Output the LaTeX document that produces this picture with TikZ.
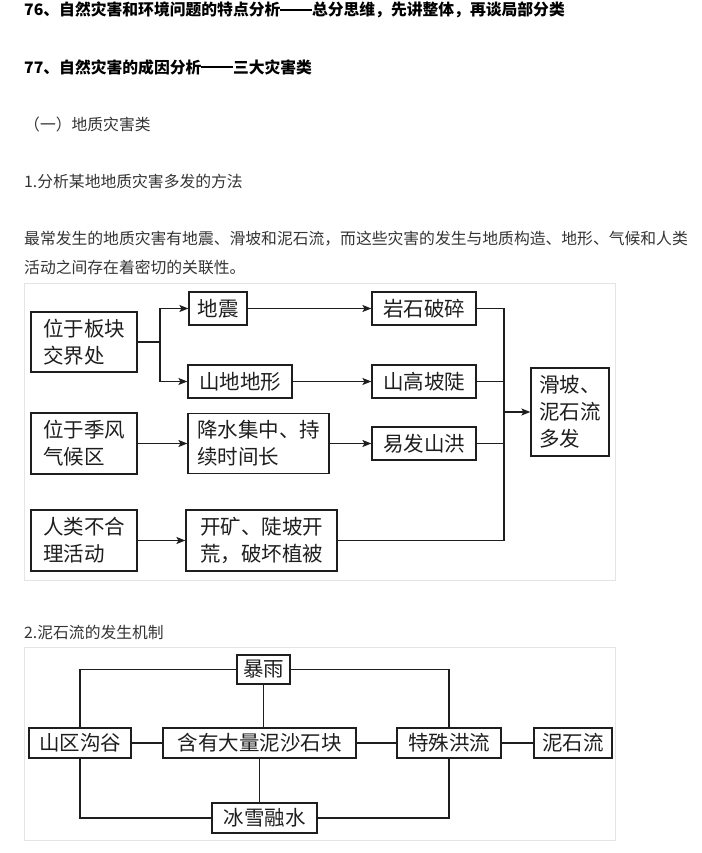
\documentclass[tikz,border=0pt]{standalone}
\usepackage{fontspec}
\setmainfont{Noto Sans CJK SC}
\usetikzlibrary{arrows.meta}
\definecolor{txt}{HTML}{333333}
\definecolor{ink}{HTML}{1E1E1E}
\definecolor{framegray}{HTML}{E4E4E4}
\newcommand\longdash{\rule[0.3em]{2em}{0.12em}}
\tikzset{
  line/.style={ink, line width=1.2pt},
  arr/.style={line, -{Stealth[length=9pt,width=7pt,inset=2pt]}},
  box/.style={draw=ink, line width=1.2pt, inner sep=0pt, align=left, text=ink,
    font=\fontsize{20.5}{27}\selectfont},
  para/.style={anchor=west, inner sep=0pt, text=txt, font=\fontsize{15.8}{18}\selectfont},
  head/.style={para, text=black, font=\fontsize{15.8}{18}\selectfont\bfseries},
  panel/.style={draw=framegray, line width=1pt}
}

\begin{document}
\begin{tikzpicture}[x=1pt,y=-1pt]
\useasboundingbox (0,0) rectangle (701,853);

\node[head] (h76) at (24,10) {76、自然灾害和环境问题的特点分析\longdash 总分思维，先讲整体，再谈局部分类};
\node[head] (h77) at (24,67) {77、自然灾害的成因分析\longdash 三大灾害类};
\node[para] (sec1) at (24,124) {（一）地质灾害类};
\node[para] (sub1) at (24,181) {1.分析某地地质灾害多发的方法};
\node[para] (txt1) at (24,239) {最常发生的地质灾害有地震、滑坡和泥石流，而这些灾害的发生与地质构造、地形、气候和人类};
\node[para] (txt2) at (24,267) {活动之间存在着密切的关联性。};
\node[para] (sub2) at (24,632) {2.泥石流的发生机制};

\draw[panel] (24.5,283) rectangle (615,580);
\node[box, minimum width=106pt, minimum height=60pt] (plate) at (84,342) {位于板块\\交界处};
\node[box, minimum width=58pt, minimum height=33pt] (quake) at (218,308.5) {地震};
\node[box, minimum width=104pt, minimum height=33pt] (rock) at (424,308.5) {岩石破碎};
\node[box, minimum width=104pt, minimum height=33pt] (mount) at (240,381.5) {山地地形};
\node[box, minimum width=104pt, minimum height=33pt] (steep) at (424,381.5) {山高坡陡};
\node[box, minimum width=78pt, minimum height=88pt] (result) at (570,412) {滑坡、\\泥石流\\多发};
\node[box, minimum width=106pt, minimum height=61pt] (monsoon) at (84,443.5) {位于季风\\气候区};
\node[box, minimum width=141pt, minimum height=60pt] (rain) at (258.5,443.5) {降水集中、持\\续时间长};
\node[box, minimum width=104pt, minimum height=33pt] (flood) at (424,443.5) {易发山洪};
\node[box, minimum width=106pt, minimum height=61pt] (human) at (84,540.5) {人类不合\\理活动};
\node[box, minimum width=151pt, minimum height=61pt] (mining) at (261.5,540.5) {开矿、陡坡开\\荒，破坏植被};
\coordinate (fork) at (160,342);
\coordinate (bus) at (504,412);

\draw[line] (plate.east) -- (fork);
\draw[arr] (fork) |- (quake);
\draw[arr] (fork) |- (mount);
\draw[arr] (quake) -- (rock);
\draw[arr] (mount) -- (steep);
\draw[arr] (monsoon) -- (rain);
\draw[arr] (rain) -- (flood);
\draw[arr] (human) -- (mining);
\draw[line] (rock.east) -| (bus) |- (mining.east);
\draw[line] (steep.east) -- (steep.east -| bus);
\draw[line] (flood.east) -- (flood.east -| bus);
\draw[arr] (bus) -- (bus -| result.west);

\draw[panel] (24,647) rectangle (615,840);
\node[box, minimum width=53pt, minimum height=29pt] (storm) at (263.5,669.5) {暴雨};
\node[box, minimum width=102pt, minimum height=30pt] (valley) at (80,743) {山区沟谷};
\node[box, minimum width=193pt, minimum height=30pt] (debris) at (259.5,743) {含有大量泥沙石块};
\node[box, minimum width=104pt, minimum height=30pt] (torrent) at (449,743) {特殊洪流};
\node[box, minimum width=78pt, minimum height=30pt] (flow) at (573,743) {泥石流};
\node[box, minimum width=105pt, minimum height=30pt] (melt) at (264.5,818) {冰雪融水};

\draw[line] (valley.north) |- (storm.west);
\draw[line] (storm.east) -| (torrent.north);
\draw[line] (storm.south) -- (storm.south |- debris.north);
\draw[line] (valley) -- (debris);
\draw[line] (debris) -- (torrent);
\draw[line] (torrent) -- (flow);
\draw[line] (debris.south) -- (debris.south |- melt.north);
\draw[line] (valley.south) |- (melt.west);
\draw[line] (melt.east) -| (torrent.south);
\end{tikzpicture}
\end{document}
